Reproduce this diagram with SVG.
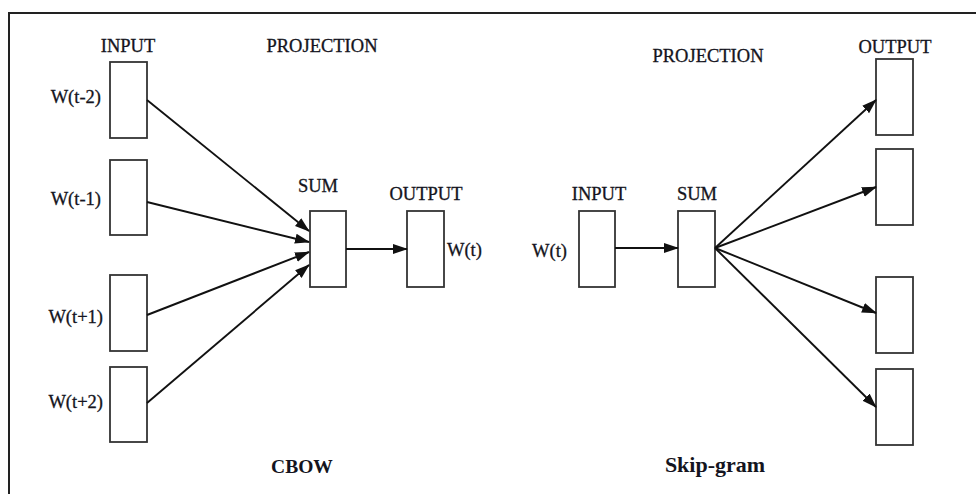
<svg xmlns="http://www.w3.org/2000/svg" width="976" height="494" viewBox="0 0 976 494">
<style>
.box{fill:#fff;stroke:#333;stroke-width:1.8}
.lbl{font-family:"Liberation Serif","Times New Roman",serif;font-size:18.5px;fill:#141420;stroke:#141420;stroke-width:0.3}
.ttl{font-family:"Liberation Serif","Times New Roman",serif;font-weight:bold;fill:#141420}
.edge{stroke:#111;stroke-width:1.9;fill:none;marker-end:url(#ah)}
</style>
<defs>
<marker id="ah" markerWidth="15" markerHeight="12" refX="14" refY="5" orient="auto" markerUnits="userSpaceOnUse" viewBox="0 0 15 10">
<path d="M0,0 L15,5 L0,10 z" fill="#111"/>
</marker>
</defs>
<rect width="976" height="494" fill="#fff"/>
<rect x="9" y="13" width="1000" height="520" fill="none" stroke="#222" stroke-width="2"/>

<g id="cbow">
<text class="lbl" x="128" y="52" text-anchor="middle">INPUT</text>
<text class="lbl" x="322" y="52" text-anchor="middle">PROJECTION</text>
<g id="in-t-2"><rect class="box" x="110" y="62" width="37" height="76"/><text class="lbl" x="101" y="103" text-anchor="end">W(t-2)</text></g>
<g id="in-t-1"><rect class="box" x="110" y="160" width="37" height="75"/><text class="lbl" x="101" y="205" text-anchor="end">W(t-1)</text></g>
<g id="in-t+1"><rect class="box" x="110" y="275" width="37" height="76"/><text class="lbl" x="103" y="323" text-anchor="end">W(t+1)</text></g>
<g id="in-t+2"><rect class="box" x="110" y="367" width="37" height="75"/><text class="lbl" x="103" y="408" text-anchor="end">W(t+2)</text></g>
<g id="cbow-sum"><rect class="box" x="310" y="211" width="36" height="76"/><text class="lbl" x="318" y="192" text-anchor="middle">SUM</text></g>
<g id="cbow-out"><rect class="box" x="407" y="211" width="37" height="76"/><text class="lbl" x="426" y="200" text-anchor="middle">OUTPUT</text><text class="lbl" x="447" y="256">W(t)</text></g>
<text class="ttl" x="302" y="473" text-anchor="middle" font-size="19.5">CBOW</text>
</g>

<g id="skipgram">
<text class="lbl" x="708" y="62" text-anchor="middle">PROJECTION</text>
<text class="lbl" x="895" y="53" text-anchor="middle">OUTPUT</text>
<g id="sg-in"><rect class="box" x="579" y="211" width="36" height="76"/><text class="lbl" x="599" y="200" text-anchor="middle">INPUT</text><text class="lbl" x="567" y="257" text-anchor="end">W(t)</text></g>
<g id="sg-sum"><rect class="box" x="678" y="211" width="37" height="76"/><text class="lbl" x="697" y="200" text-anchor="middle">SUM</text></g>
<g id="out1"><rect class="box" x="876" y="59" width="37" height="76"/></g>
<g id="out2"><rect class="box" x="876" y="149" width="37" height="76"/></g>
<g id="out3"><rect class="box" x="876" y="277" width="37" height="76"/></g>
<g id="out4"><rect class="box" x="876" y="369" width="37" height="76"/></g>
<text class="ttl" x="715" y="472" text-anchor="middle" font-size="22">Skip-gram</text>
</g>

<g id="connectors">
<line class="edge" x1="147" y1="100" x2="309" y2="231"/>
<line class="edge" x1="147" y1="202" x2="309" y2="242"/>
<line class="edge" x1="147" y1="315" x2="309" y2="252"/>
<line class="edge" x1="147" y1="403" x2="309" y2="265"/>
<line class="edge" x1="346" y1="249" x2="407" y2="249"/>
<line class="edge" x1="615" y1="248" x2="678" y2="248"/>
<line class="edge" x1="715" y1="248" x2="876" y2="100"/>
<line class="edge" x1="715" y1="248" x2="876" y2="187"/>
<line class="edge" x1="715" y1="248" x2="876" y2="313"/>
<line class="edge" x1="715" y1="248" x2="876" y2="407"/>
</g>
</svg>
